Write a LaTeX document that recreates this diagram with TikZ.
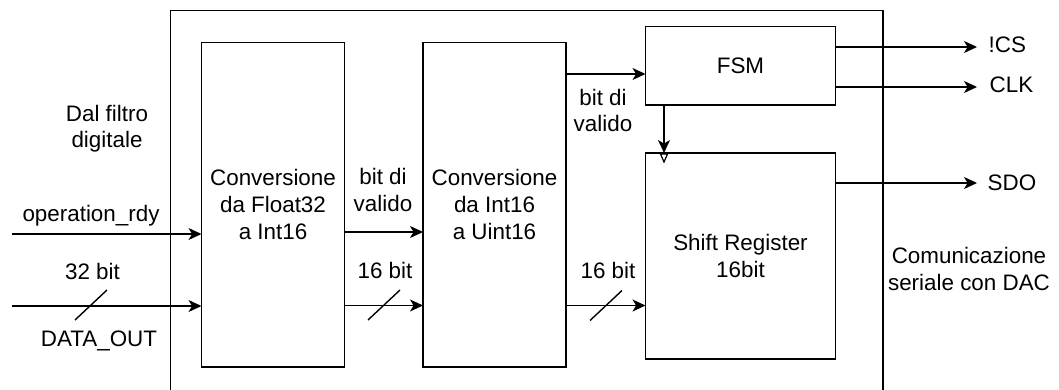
\documentclass[tikz,border=0pt]{standalone}
\usepackage{fontspec}
\setmainfont{Liberation Sans}
\usetikzlibrary{arrows.meta}
\begin{document}
\begin{tikzpicture}[x=0.5pt,y=-0.5pt,
  line width=0.7pt,
  every node/.style={font=\fontsize{11.2pt}{13.45pt}\selectfont},
  block/.style={draw, inner sep=0pt, outer sep=0pt, align=center},
  lbl/.style={inner sep=0pt, anchor=base, align=center},
  arr/.style={-{Stealth[length=6.5pt,width=6pt,inset=1.8pt]}},
  busmark/.style={line width=0.7pt}
]
\useasboundingbox (0,0) rectangle (1059,390);

% enclosing frame, open at the bottom
\draw (170.5,390) -- (170.5,10.5) -- (883,10.5) -- (883,390);

% processing blocks
\node[block, minimum width=71.5pt, minimum height=162.25pt] (b1) at (273,204.75)
  {Conversione\\da Float32\\a Int16};
\node[block, minimum width=71.5pt, minimum height=162.25pt] (b2) at (494.5,204.75)
  {Conversione\\da Int16\\a Uint16};
\node[block, minimum width=95pt, minimum height=39.25pt] (fsm) at (740.5,65.75) {FSM};
\node[block, minimum width=95pt, minimum height=103pt] (sr) at (740.5,256)
  {Shift Register\\16bit};

% reference rows for the signal lines
\coordinate (opin) at (12,234);
\coordinate (datain) at (12,306);
\coordinate (yvalid) at (0,232);
\coordinate (ybus) at (0,305.5);
\coordinate (yfsm) at (0,74);
\coordinate (ycs) at (0,47);
\coordinate (yclk) at (0,87);
\coordinate (ysdo) at (0,183);
\coordinate (xout) at (977,0);
\coordinate (xck) at (664,0);

% inputs
\draw[arr] (opin) -- (opin -| b1.west);
\draw[arr] (datain) -- (datain -| b1.west);
% between blocks
\draw[arr] (b1.east |- yvalid) -- (b2.west |- yvalid);
\draw[arr] (b1.east |- ybus) -- (b2.west |- ybus);
\draw[arr] (b2.east |- ybus) -- (sr.west |- ybus);
\draw[arr] (b2.east |- yfsm) -- (fsm.west |- yfsm);
\draw[arr] (fsm.south -| xck) -- (sr.north -| xck);
% clock marker on the shift register
\draw[line width=0.6pt] (sr.north -| xck) ++(-3.5,1) -- ++(7,0) -- ++(-3.5,8) -- cycle;
% outputs
\coordinate (cs) at (xout |- ycs);
\coordinate (clk) at (xout |- yclk);
\coordinate (sdo) at (xout |- ysdo);
\draw[arr] (fsm.east |- ycs) -- (cs);
\draw[arr] (fsm.east |- yclk) -- (clk);
\draw[arr] (sr.east |- ysdo) -- (sdo);

% bus width marks
\coordinate (m1) at (91,305);
\coordinate (m2) at (384,305);
\coordinate (m3) at (606,305.5);
\draw[busmark] (m1) ++(-16,15) -- ++(32,-30);
\draw[busmark] (m2) ++(-16,15) -- ++(32,-30);
\draw[busmark] (m3) ++(-16,15) -- ++(32,-30);

% labels (base anchor = baseline of the last line)
\node[lbl] (src) at (107,148) {Dal filtro\\digitale};
\node[lbl] (lop) at (91,221) {operation\_rdy};
\node[lbl] (l32) at (92.5,279) {32 bit};
\node[lbl] (ldata) at (99,346) {DATA\_OUT};
\node[lbl] (lv1) at (383,211) {bit di\\valido};
\node[lbl] (l16a) at (385,278) {16 bit};
\node[lbl] (lv2) at (603,132) {bit di\\valido};
\node[lbl] (l16b) at (608,278) {16 bit};
\node[lbl, anchor=base west] (lcs) at (988,53) {!CS};
\node[lbl, anchor=base west] (lclk) at (989,92) {CLK};
\node[lbl, anchor=base west] (lsdo) at (987,190) {SDO};
\node[lbl] (ldac) at (969,290) {Comunicazione\\seriale con DAC};
\end{tikzpicture}
\end{document}
